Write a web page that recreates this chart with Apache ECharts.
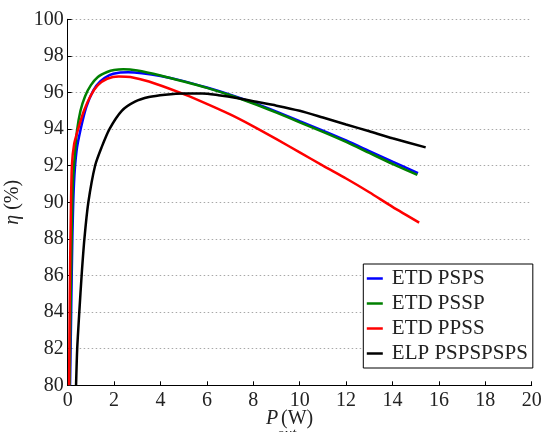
<!DOCTYPE html>
<html>
<head>
<meta charset="utf-8">
<script src="https://cdn.jsdelivr.net/npm/echarts@6/dist/echarts.min.js"></script>
<style>
  html, body { margin: 0; padding: 0; background: #fff; }
  #chart { width: 546px; height: 432px; }
</style>
</head>
<body>
<div id="chart"></div>
<script>
// Output power (W) and efficiency (%) for each converter variant
const etdPspsP   = [0.10, 0.15, 0.20, 0.27, 0.38, 0.56, 0.80, 1.10, 1.40, 1.80, 2.20, 2.60, 3.20, 4.00, 5.00, 6.00, 7.00, 8.00, 9.00, 10.0, 11.0, 12.0, 13.0, 14.0, 15.1];
const etdPspsEta = [80.0, 84.0, 88.0, 91.0, 92.8, 94.0, 95.2, 96.1, 96.6, 96.95, 97.08, 97.1, 97.05, 96.9, 96.62, 96.27, 95.88, 95.44, 94.95, 94.43, 93.92, 93.38, 92.8, 92.22, 91.6];

const etdPsspP   = [0.08, 0.12, 0.17, 0.22, 0.30, 0.40, 0.55, 0.75, 1.00, 1.30, 1.70, 2.00, 2.40, 3.00, 4.00, 5.00, 6.00, 7.00, 8.00, 9.00, 10.0, 11.0, 12.0, 13.0, 14.0, 15.07];
const etdPsspEta = [80.0, 84.0, 88.0, 91.0, 92.5, 93.9, 95.0, 95.8, 96.4, 96.85, 97.12, 97.23, 97.27, 97.2, 96.93, 96.6, 96.25, 95.85, 95.4, 94.9, 94.37, 93.85, 93.3, 92.7, 92.1, 91.5];

const etdPpssP   = [0.06, 0.09, 0.13, 0.18, 0.28, 0.45, 0.70, 1.00, 1.30, 1.70, 2.20, 2.70, 3.50, 4.84, 5.70, 7.00, 8.00, 9.00, 10.0, 11.0, 12.0, 13.0, 14.0, 15.15];
const etdPpssEta = [80.0, 85.0, 89.0, 92.0, 93.2, 94.0, 95.0, 95.85, 96.4, 96.75, 96.88, 96.85, 96.6, 95.99, 95.54, 94.8, 94.15, 93.45, 92.73, 92.0, 91.3, 90.55, 89.75, 88.89];

const elpP   = [0.36, 0.41, 0.50, 0.60, 0.72, 0.89, 1.18, 1.46, 1.80, 2.33, 2.90, 3.50, 4.20, 5.00, 5.80, 6.50, 7.28, 8.00, 9.00, 10.0, 11.0, 12.0, 13.0, 14.0, 15.43];
const elpEta = [80.0, 82.0, 84.0, 86.0, 88.0, 90.0, 92.0, 93.0, 94.0, 95.0, 95.5, 95.75, 95.88, 95.95, 95.95, 95.85, 95.7, 95.52, 95.28, 95.0, 94.63, 94.25, 93.88, 93.5, 93.0];

const seriesNames  = ['ETD PSPS', 'ETD PSSP', 'ETD PPSS', 'ELP PSPSPSPS'];
const seriesColors = ['#0000ff', '#008000', '#ff0000', '#000000'];
const seriesX = [etdPspsP, etdPsspP, etdPpssP, elpP];
const seriesY = [etdPspsEta, etdPsspEta, etdPpssEta, elpEta];

const xTicks = { min: 0, max: 20, step: 2 };
const yTicks = { min: 80, max: 100, step: 2 };

const serif = 'Liberation Serif';

const pairs = (xs, ys) => xs.map((x, i) => [x, ys[i]]);

const chart = echarts.init(document.getElementById('chart'), null, { renderer: 'canvas' });

chart.setOption({
  animation: false,
  backgroundColor: '#ffffff',
  grid: {
    left: 67.7, right: 14.3, top: 19.3, bottom: 46.7,
    containLabel: false,
    outerBoundsMode: 'none'
  },
  xAxis: {
    type: 'value',
    min: xTicks.min, max: xTicks.max, interval: xTicks.step,
    axisLine: { show: true, onZero: false, lineStyle: { color: '#000', width: 1 } },
    axisTick: { show: true, inside: true, length: 4, lineStyle: { color: '#000' } },
    axisLabel: { color: '#222', fontFamily: serif, fontSize: 20, margin: 5 },
    splitLine: { show: false }
  },
  yAxis: {
    type: 'value',
    min: yTicks.min, max: yTicks.max, interval: yTicks.step,
    name: '{i|η} (%)',
    nameLocation: 'middle',
    nameRotate: 90,
    nameGap: 45,
    nameTextStyle: {
      color: '#222', fontFamily: serif, fontSize: 20,
      rich: { i: { fontStyle: 'italic', fontFamily: serif, fontSize: 20, color: '#222' } }
    },
    axisLine: { show: true, lineStyle: { color: '#000', width: 1 } },
    axisTick: { show: true, inside: true, length: 4, lineStyle: { color: '#000' } },
    axisLabel: { color: '#222', fontFamily: serif, fontSize: 20, margin: 4 },
    splitLine: { show: true, lineStyle: { color: '#a8a8a8', width: 1, type: [1.5, 2.5] } }
  },
  legend: {
    orient: 'vertical',
    left: 363.3,
    top: 264,
    padding: [4, 5, 4, 3.5],
    itemGap: 4,
    itemWidth: 16,
    itemHeight: 2.5,
    icon: 'rect',
    backgroundColor: '#ffffff',
    borderColor: '#000',
    borderWidth: 1,
    z: 10,
    textStyle: { color: '#222', fontFamily: serif, fontSize: 21, lineHeight: 21, padding: [0, 0, 0, 4] },
    data: seriesNames
  },
  graphic: [
    { type: 'text', left: 266, top: 409, z: 5,
      style: { text: 'P', fontFamily: serif, fontStyle: 'italic', fontSize: 20, fill: '#222' } },
    { type: 'text', left: 277, top: 427, z: 5,
      style: { text: 'out', fontFamily: serif, fontStyle: 'italic', fontSize: 15, fill: '#222' } },
    { type: 'text', left: 281, top: 409, z: 5,
      style: { text: '(W)', fontFamily: serif, fontSize: 20, fill: '#222' } }
  ],
  series: seriesNames.map((name, k) => ({
    name: name,
    type: 'line',
    data: pairs(seriesX[k], seriesY[k]),
    showSymbol: false,
    smooth: 0.25,
    clip: true,
    color: seriesColors[k],
    lineStyle: { color: seriesColors[k], width: 2.5 },
    itemStyle: { color: seriesColors[k] },
    z: 2 + k
  }))
});
</script>
</body>
</html>
